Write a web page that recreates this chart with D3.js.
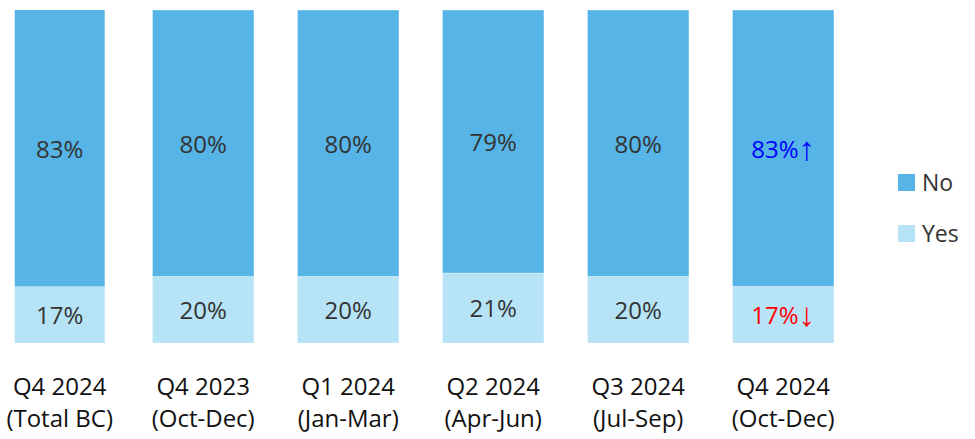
<!DOCTYPE html>
<html>
<head>
<meta charset="utf-8">
<script src="https://cdn.jsdelivr.net/npm/d3@7"></script>
<style>
  html, body { margin: 0; padding: 0; background: #fff; }
  svg { display: block; font-family: "Open Sans", "Noto Sans", sans-serif; }
</style>
</head>
<body>
<svg id="chart" width="975" height="439"></svg>
<script>
// Survey response shares per period
const periods = ["Q4 2024 (Total BC)", "Q4 2023 (Oct-Dec)", "Q1 2024 (Jan-Mar)", "Q2 2024 (Apr-Jun)", "Q3 2024 (Jul-Sep)", "Q4 2024 (Oct-Dec)"];
const periodLines = [["Q4 2024", "(Total BC)"], ["Q4 2023", "(Oct-Dec)"], ["Q1 2024", "(Jan-Mar)"], ["Q2 2024", "(Apr-Jun)"], ["Q3 2024", "(Jul-Sep)"], ["Q4 2024", "(Oct-Dec)"]];
const yesValues = [17, 20, 20, 21, 20, 17];
const noValues = [83, 80, 80, 79, 80, 83];
// change markers shown beside the latest quarter's labels
const noTrend = ["", "", "", "", "", "↑"];
const yesTrend = ["", "", "", "", "", "↓"];
const seriesNames = ["No", "Yes"];

const colors = { No: "#56B4E6", Yes: "#B6E3F6" };
const trendColors = { "↑": "#0000FF", "↓": "#FF0000" };

const svg = d3.select("#chart");

const x = d3.scaleBand()
  .domain(periods)
  .range([-14.3, 855.7])
  .paddingInner(0.3)
  .paddingOuter(0.15);

const y = d3.scaleLinear().domain([0, 100]).range([343, 10]);

const rows = periods.map((p, i) => ({
  period: p, i,
  Yes: yesValues[i], No: noValues[i]
}));

const stack = d3.stack().keys(["Yes", "No"]);
const layers = stack(rows);

// the overall column is drawn a little narrower than the quarterly ones
const barWidth = d => d.data.i === 0 ? 90 : x.bandwidth();
const barX = d => x(d.data.period) + (x.bandwidth() - barWidth(d)) / 2 + (d.data.i === 0 ? 1.5 : 0);

const g = svg.append("g");

layers.forEach(layer => {
  const key = layer.key;
  g.selectAll(null)
    .data(layer)
    .join("rect")
    .attr("x", barX)
    .attr("width", barWidth)
    .attr("y", d => y(d[1]))
    .attr("height", d => y(d[0]) - y(d[1]))
    .attr("fill", colors[key])
    .attr("stroke", d => d.data.i === 0 ? "none" : "rgba(255,255,255,0.35)")
    .attr("stroke-width", 1);

  const trend = key === "No" ? noTrend : yesTrend;
  const labels = g.selectAll(null)
    .data(layer)
    .join("text")
    .attr("x", d => barX(d) + barWidth(d) / 2)
    .attr("y", d => (y(d[0]) + y(d[1])) / 2 + 1)
    .attr("dy", "0.35em")
    .attr("text-anchor", "middle")
    .attr("font-size", 24)
    .attr("fill", d => trend[d.data.i] ? trendColors[trend[d.data.i]] : "#333333");
  labels.append("tspan").text(d => `${d.data[key]}%`);
  labels.filter(d => trend[d.data.i])
    .append("tspan")
    .attr("font-family", "'Liberation Sans', 'DejaVu Sans', sans-serif")
    .attr("font-size", 33)
    .attr("dy", 2)
    .text(d => trend[d.data.i]);
});

// category labels, two lines each
const axisG = svg.append("g");
rows.forEach(r => {
  const t = axisG.append("text")
    .attr("x", x(r.period) + x.bandwidth() / 2)
    .attr("y", 395)
    .attr("text-anchor", "middle")
    .attr("font-size", 24)
    .attr("fill", "#111");
  periodLines[r.i].forEach((line, k) => {
    t.append("tspan")
      .attr("x", x(r.period) + x.bandwidth() / 2 + (r.i === 0 ? 1.5 : 0))
      .attr("dy", k === 0 ? 0 : 32)
      .text(line);
  });
});

// legend
const legend = svg.append("g").attr("transform", "translate(898,174)");
seriesNames.forEach((name, k) => {
  const row = legend.append("g").attr("transform", `translate(0,${k * 51})`);
  row.append("rect").attr("width", 17).attr("height", 17).attr("fill", colors[name]);
  row.append("text")
    .attr("x", 24)
    .attr("y", 8.5)
    .attr("dy", "0.35em")
    .attr("font-size", 23)
    .attr("fill", "#333333")
    .text(name);
});
</script>
</body>
</html>
